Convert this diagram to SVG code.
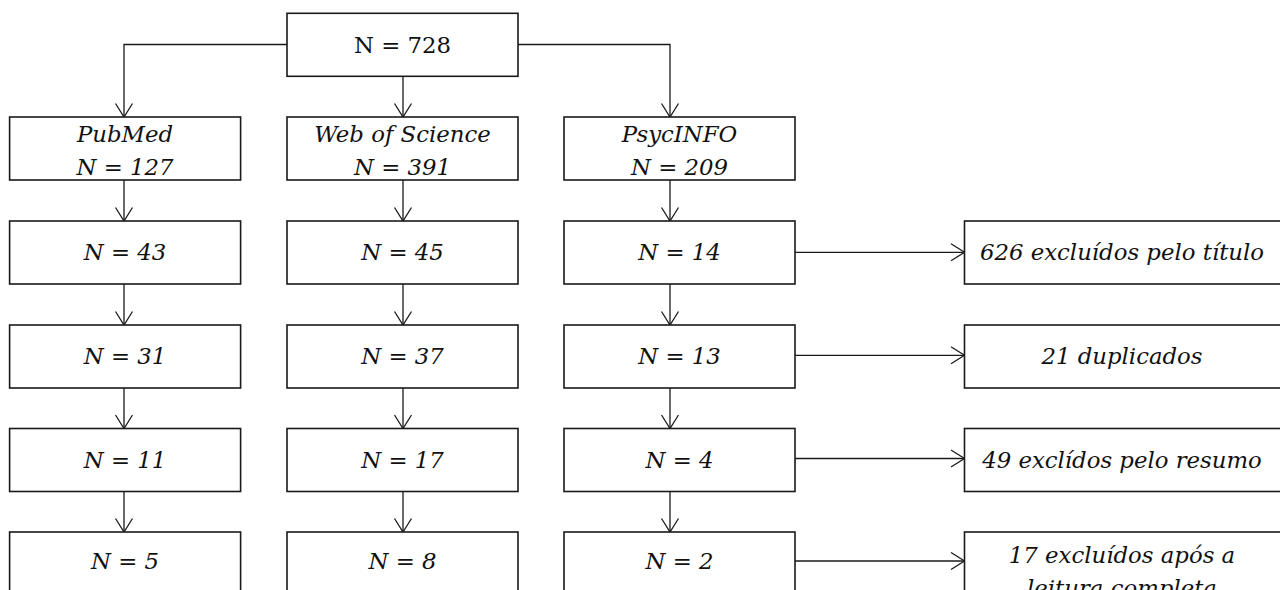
<svg xmlns="http://www.w3.org/2000/svg" width="1280" height="590" viewBox="0 0 1280 590">
<style>
.box{fill:#fff;stroke:#1a1a1a;stroke-width:1.6}
.t{font-family:"DejaVu Serif","Liberation Serif",serif;font-size:22.8px;fill:#111;text-anchor:middle}
.i{font-style:italic}
.c{fill:none;stroke:#1a1a1a;stroke-width:1.3}
</style>
<defs>
<marker id="ah" markerUnits="userSpaceOnUse" markerWidth="24" markerHeight="24" viewBox="-16 -12 24 24" refX="0" refY="0" orient="auto">
<path d="M-13.5,-8.5 L0,0 L-13.5,8.5" fill="none" stroke="#1a1a1a" stroke-width="1.3"/>
</marker>
</defs>
<rect width="1280" height="590" fill="#fff"/>
<g id="connectors">
<path class="c" d="M287,44.5 H124 V117" marker-end="url(#ah)"/>
<path class="c" d="M403,76.3 V117" marker-end="url(#ah)"/>
<path class="c" d="M518,44.5 H670 V117" marker-end="url(#ah)"/>
<path class="c" d="M124,180 V221" marker-end="url(#ah)"/>
<path class="c" d="M124,284 V325" marker-end="url(#ah)"/>
<path class="c" d="M124,388 V428.5" marker-end="url(#ah)"/>
<path class="c" d="M124,491.5 V532" marker-end="url(#ah)"/>
<path class="c" d="M403,180 V221" marker-end="url(#ah)"/>
<path class="c" d="M403,284 V325" marker-end="url(#ah)"/>
<path class="c" d="M403,388 V428.5" marker-end="url(#ah)"/>
<path class="c" d="M403,491.5 V532" marker-end="url(#ah)"/>
<path class="c" d="M670,180 V221" marker-end="url(#ah)"/>
<path class="c" d="M670,284 V325" marker-end="url(#ah)"/>
<path class="c" d="M670,388 V428.5" marker-end="url(#ah)"/>
<path class="c" d="M670,491.5 V532" marker-end="url(#ah)"/>
<path class="c" d="M795,252.3 H964.5" marker-end="url(#ah)"/>
<path class="c" d="M795,355.3 H964.5" marker-end="url(#ah)"/>
<path class="c" d="M795,458.5 H964.5" marker-end="url(#ah)"/>
<path class="c" d="M795,561 H964.5" marker-end="url(#ah)"/>
</g>
<g id="n-total"><rect class="box" x="287" y="13.3" width="231" height="63"/><text class="t" x="402.5" y="52.5">N = 728</text></g>
<g id="n-pubmed"><rect class="box" x="9.6" y="117" width="231" height="63"/><text class="t i" x="125" y="141.7">PubMed</text><text class="t i" x="125" y="175">N = 127</text></g>
<g id="n-wos"><rect class="box" x="287" y="117" width="231" height="63"/><text class="t i" x="402.5" y="141.7">Web of Science</text><text class="t i" x="402.5" y="175">N = 391</text></g>
<g id="n-psyc"><rect class="box" x="564" y="117" width="231" height="63"/><text class="t i" x="679.5" y="141.7">PsycINFO</text><text class="t i" x="679.5" y="175">N = 209</text></g>
<g id="n-pub2"><rect class="box" x="9.6" y="221" width="231" height="63"/><text class="t i" x="125" y="260">N = 43</text></g>
<g id="n-wos2"><rect class="box" x="287" y="221" width="231" height="63"/><text class="t i" x="402.5" y="260">N = 45</text></g>
<g id="n-psy2"><rect class="box" x="564" y="221" width="231" height="63"/><text class="t i" x="679.5" y="260">N = 14</text></g>
<g id="n-pub3"><rect class="box" x="9.6" y="325" width="231" height="63"/><text class="t i" x="125" y="364">N = 31</text></g>
<g id="n-wos3"><rect class="box" x="287" y="325" width="231" height="63"/><text class="t i" x="402.5" y="364">N = 37</text></g>
<g id="n-psy3"><rect class="box" x="564" y="325" width="231" height="63"/><text class="t i" x="679.5" y="364">N = 13</text></g>
<g id="n-pub4"><rect class="box" x="9.6" y="428.5" width="231" height="63"/><text class="t i" x="125" y="467.5">N = 11</text></g>
<g id="n-wos4"><rect class="box" x="287" y="428.5" width="231" height="63"/><text class="t i" x="402.5" y="467.5">N = 17</text></g>
<g id="n-psy4"><rect class="box" x="564" y="428.5" width="231" height="63"/><text class="t i" x="679.5" y="467.5">N = 4</text></g>
<g id="n-pub5"><rect class="box" x="9.6" y="532" width="231" height="63"/><text class="t i" x="125" y="569">N = 5</text></g>
<g id="n-wos5"><rect class="box" x="287" y="532" width="231" height="63"/><text class="t i" x="402.5" y="569">N = 8</text></g>
<g id="n-psy5"><rect class="box" x="564" y="532" width="231" height="63"/><text class="t i" x="679.5" y="569">N = 2</text></g>
<g id="x-titulo"><rect class="box" x="964.5" y="221" width="317" height="63"/><text class="t i" x="1122" y="260">626 excluídos pelo título</text></g>
<g id="x-dup"><rect class="box" x="964.5" y="325" width="317" height="63"/><text class="t i" x="1122" y="364">21 duplicados</text></g>
<g id="x-resumo"><rect class="box" x="964.5" y="428.5" width="317" height="63"/><text class="t i" x="1122" y="467.5">49 exclídos pelo resumo</text></g>
<g id="x-leitura"><rect class="box" x="964.5" y="532" width="317" height="63"/><text class="t i" x="1122" y="562.7">17 excluídos após a</text><text class="t i" x="1122" y="596">leitura completa</text></g>
</svg>
